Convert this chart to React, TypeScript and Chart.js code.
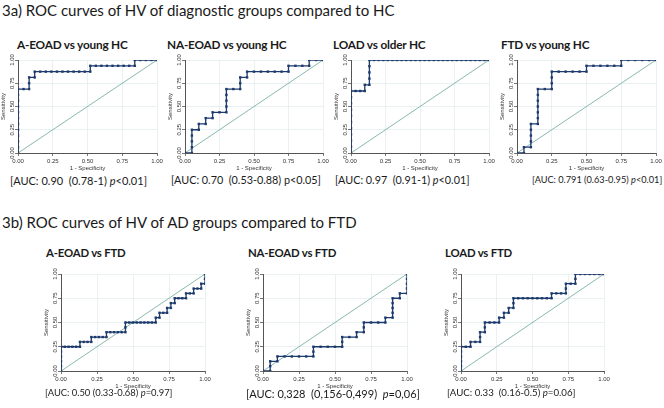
import React, { useEffect, useRef } from "react";
import { Chart, registerables } from "chart.js";

Chart.register(...registerables);

// ---------- data (counts of false positives / true positives at each ROC point) ----------
const TICK_LABELS = ["0.00", "0.25", "0.50", "0.75", "1.00"];

// 3a-1 A-EOAD vs young HC
const AEOAD_HC_NNEG = 25;
const AEOAD_HC_NPOS = 16;
const AEOAD_HC_FP = [0,0,0,0,0,0,0,0,0,0,0,0,1,2,2,2,3,3,4,5,6,7,8,9,10,11,12,13,13,14,15,16,17,18,19,20,21,21,22,23,24,25];
const AEOAD_HC_TP = [0,1,2,3,4,5,6,7,8,9,10,11,11,11,12,13,13,14,14,14,14,14,14,14,14,14,14,14,15,15,15,15,15,15,15,15,15,16,16,16,16,16];

// 3a-2 NA-EOAD vs young HC
const NAEOAD_HC_NNEG = 20;
const NAEOAD_HC_NPOS = 16;
const NAEOAD_HC_FP = [0,1,1,1,1,1,2,2,3,3,4,4,5,6,6,6,6,6,7,8,8,8,9,9,10,11,12,13,14,15,15,16,17,18,18,19,20];
const NAEOAD_HC_TP = [0,0,1,2,3,4,4,5,5,6,6,7,7,7,8,9,10,11,11,11,12,13,13,14,14,14,14,14,14,14,15,15,15,15,16,16,16];

// 3a-3 LOAD vs older HC
const LOAD_HC_NNEG = 30;
const LOAD_HC_NPOS = 15;
const LOAD_HC_FP = [0,0,0,0,0,0,0,0,0,0,0,1,2,3,3,4,4,4,4,4,5,6,7,8,9,10,11,12,13,14,15,16,17,18,19,20,21,22,23,24,25,26,27,28,29,30];
const LOAD_HC_TP = [0,1,2,3,4,5,6,7,8,9,10,10,10,10,11,11,12,13,14,15,15,15,15,15,15,15,15,15,15,15,15,15,15,15,15,15,15,15,15,15,15,15,15,15,15,15];

// 3a-4 FTD vs young HC
const FTD_HC_NNEG = 20;
const FTD_HC_NPOS = 16;
const FTD_HC_FP = [0,1,1,2,2,2,2,2,3,3,3,3,3,3,3,4,5,5,5,5,6,7,8,9,10,10,11,12,13,14,15,15,16,17,18,19,20];
const FTD_HC_TP = [0,0,1,1,2,3,4,5,5,6,7,8,9,10,11,11,11,12,13,14,14,14,14,14,14,15,15,15,15,15,15,16,16,16,16,16,16];

// 3b-1 A-EOAD vs FTD
const AEOAD_FTD_NNEG = 38;
const AEOAD_FTD_NPOS = 20;
const AEOAD_FTD_FP = [0,0,0,0,0,0,1,2,3,4,5,5,6,7,8,8,9,10,11,12,12,13,14,15,16,17,17,17,18,19,20,21,22,23,24,25,25,26,26,27,28,28,29,29,30,30,31,32,33,33,34,35,35,36,37,37,38,38,38];
const AEOAD_FTD_TP = [0,1,2,3,4,5,5,5,5,5,5,6,6,6,6,7,7,7,7,7,8,8,8,8,8,8,9,10,10,10,10,10,10,10,10,10,11,11,12,12,12,13,13,14,14,15,15,15,15,16,16,16,17,17,17,18,18,19,20];

// 3b-2 NA-EOAD vs FTD
const NAEOAD_FTD_NNEG = 20;
const NAEOAD_FTD_NPOS = 20;
const NAEOAD_FTD_FP = [0,1,1,1,2,2,3,4,5,6,7,7,7,8,9,10,11,11,11,12,13,13,14,14,14,15,16,17,17,18,18,18,18,18,19,19,20,20,20,20,20];
const NAEOAD_FTD_TP = [0,0,1,2,2,3,3,3,3,3,3,4,5,5,5,5,5,6,7,7,7,8,8,9,10,10,10,10,11,11,12,13,14,15,15,16,16,17,18,19,20];

// 3b-3 LOAD vs FTD
const LOAD_FTD_NNEG = 30;
const LOAD_FTD_NPOS = 20;
const LOAD_FTD_FP = [0,0,0,0,0,0,1,2,2,3,4,4,4,5,5,5,6,7,8,8,9,9,10,10,11,11,11,12,13,14,15,16,17,18,19,19,20,21,22,22,22,23,24,24,24,25,26,27,28,29,30];
const LOAD_FTD_TP = [0,1,2,3,4,5,5,5,6,6,6,7,8,8,9,10,10,10,10,11,11,12,12,13,13,14,15,15,15,15,15,15,15,15,15,16,16,16,16,17,18,18,18,19,20,20,20,20,20,20,20];

// ---------- styling ----------
const NAVY = "#1c3a6c";
const TEAL = "#88b9ae";
const GRID = "#e4eeef";
const AXIS = "#555555";
const TICK_FONT = "'Liberation Sans', Arial, sans-serif";
const TEXT_FONT = "Lato, 'Open Sans', sans-serif";

const WY = 18; // y-axis box width
const HX = 19; // x-axis box height
const PT = 8;  // top padding
const PR = 10; // right padding

type Panel = {
  title: string;
  titleSize: number;
  aucPre: string;
  pItalic: boolean;
  aucPost: string;
  aucSize: number;
  fp: number[];
  tp: number[];
  nNeg: number;
  nPos: number;
  plot: { l: number; t: number; w: number; h: number };
  titlePos: { x: number; y: number };
  aucPos: { x: number; y: number };
};

const PANELS: Panel[] = [
  { title: "A-EOAD vs young HC", titleSize: 11.8, aucPre: "[AUC: 0.90  (0.78-1) ", pItalic: true, aucPost: "<0.01]", aucSize: 11,
    fp: AEOAD_HC_FP, tp: AEOAD_HC_TP, nNeg: AEOAD_HC_NNEG, nPos: AEOAD_HC_NPOS,
    plot: { l: 18, t: 60, w: 139, h: 93 }, titlePos: { x: 17, y: 45 }, aucPos: { x: 10, y: 180 } },
  { title: "NA-EOAD vs young HC", titleSize: 11.8, aucPre: "[AUC: 0.70  (0.53-0.88) ", pItalic: false, aucPost: "<0.05]", aucSize: 10.8,
    fp: NAEOAD_HC_FP, tp: NAEOAD_HC_TP, nNeg: NAEOAD_HC_NNEG, nPos: NAEOAD_HC_NPOS,
    plot: { l: 185, t: 60, w: 138, h: 93 }, titlePos: { x: 167, y: 45 }, aucPos: { x: 171, y: 180 } },
  { title: "LOAD vs older HC", titleSize: 11.8, aucPre: "[AUC: 0.97  (0.91-1) ", pItalic: true, aucPost: "<0.01]", aucSize: 10.8,
    fp: LOAD_HC_FP, tp: LOAD_HC_TP, nNeg: LOAD_HC_NNEG, nPos: LOAD_HC_NPOS,
    plot: { l: 351, t: 60, w: 138, h: 93 }, titlePos: { x: 333, y: 45 }, aucPos: { x: 335, y: 180 } },
  { title: "FTD vs young HC", titleSize: 11.8, aucPre: "[AUC: 0.791 (0.63-0.95) ", pItalic: true, aucPost: "<0.01]", aucSize: 9.2,
    fp: FTD_HC_FP, tp: FTD_HC_TP, nNeg: FTD_HC_NNEG, nPos: FTD_HC_NPOS,
    plot: { l: 517, t: 60, w: 139, h: 93 }, titlePos: { x: 501, y: 45 }, aucPos: { x: 532, y: 180 } },
  { title: "A-EOAD vs FTD", titleSize: 11.4, aucPre: "[AUC: 0.50 (0.33-0.68) ", pItalic: true, aucPost: "=0.97]", aucSize: 9.4,
    fp: AEOAD_FTD_FP, tp: AEOAD_FTD_TP, nNeg: AEOAD_FTD_NNEG, nPos: AEOAD_FTD_NPOS,
    plot: { l: 61, t: 274, w: 144, h: 97 }, titlePos: { x: 46, y: 253 }, aucPos: { x: 45, y: 393 } },
  { title: "NA-EOAD vs FTD", titleSize: 11.4, aucPre: "[AUC: 0,328  (0,156-0,499)  ", pItalic: true, aucPost: "=0,06]", aucSize: 11,
    fp: NAEOAD_FTD_FP, tp: NAEOAD_FTD_TP, nNeg: NAEOAD_FTD_NNEG, nPos: NAEOAD_FTD_NPOS,
    plot: { l: 263, t: 274, w: 144, h: 97 }, titlePos: { x: 248, y: 253 }, aucPos: { x: 246, y: 393 } },
  { title: "LOAD vs FTD", titleSize: 11.4, aucPre: "[AUC: 0.33  (0.16-0.5) ", pItalic: true, aucPost: "=0.06]", aucSize: 9.7,
    fp: LOAD_FTD_FP, tp: LOAD_FTD_TP, nNeg: LOAD_FTD_NNEG, nPos: LOAD_FTD_NPOS,
    plot: { l: 461, t: 274, w: 143, h: 97 }, titlePos: { x: 445, y: 253 }, aucPos: { x: 447, y: 393 } },
];

function RocChart({ panel }: { panel: Panel }) {
  const ref = useRef<HTMLCanvasElement | null>(null);
  const cw = WY + panel.plot.w + PR;
  const ch = PT + panel.plot.h + HX;
  useEffect(() => {
    if (!ref.current) return;
    const pts = panel.fp.map((f, i) => ({ x: f / panel.nNeg, y: panel.tp[i] / panel.nPos }));
    const chart = new Chart(ref.current, {
      type: "scatter",
      data: {
        datasets: [
          {
            data: pts,
            showLine: true,
            borderColor: NAVY,
            backgroundColor: NAVY,
            borderWidth: 1.3,
            pointStyle: "rect",
            pointRadius: 1.7,
            pointBorderWidth: 0,
            order: 0,
          },
          {
            data: [{ x: 0, y: 0 }, { x: 1, y: 1 }],
            showLine: true,
            borderColor: TEAL,
            borderWidth: 1,
            pointRadius: 0,
            order: 1,
          },
        ],
      },
      options: {
        animation: false,
        responsive: false,
        devicePixelRatio: 1,
        events: [],
        plugins: { legend: { display: false }, tooltip: { enabled: false } },
        layout: { padding: { top: PT, right: PR, left: 0, bottom: 0 } },
        scales: {
          x: {
            type: "linear",
            min: 0,
            max: 1,
            ticks: {
              stepSize: 0.25,
              callback: (_v: any, i: number) => TICK_LABELS[i],
              font: { size: 6, family: TICK_FONT },
              color: "#333",
              padding: 2,
              maxRotation: 0,
              autoSkip: false,
            },
            grid: { color: GRID, tickColor: AXIS, tickLength: 3, lineWidth: 0.8 },
            border: { color: AXIS, width: 1 },
            title: { display: true, text: "1 - Specificity", font: { size: 6, family: TICK_FONT }, color: "#333", padding: 0 },
            afterFit: (s: any) => { s.height = HX; s.paddingLeft = 0; s.paddingRight = 0; },
          },
          y: {
            type: "linear",
            min: 0,
            max: 1,
            ticks: {
              stepSize: 0.25,
              callback: (_v: any, i: number) => TICK_LABELS[i],
              font: { size: 6, family: TICK_FONT },
              color: "#333",
              padding: -3,
              minRotation: 90,
              maxRotation: 90,
              crossAlign: "center",
              autoSkip: false,
            },
            grid: { color: GRID, tickColor: AXIS, tickLength: 3, lineWidth: 0.8 },
            border: { color: AXIS, width: 1 },
            title: { display: true, text: "Sensitivity", font: { size: 6, family: TICK_FONT }, color: "#333", padding: 0 },
            afterFit: (s: any) => { s.width = WY; s.paddingTop = 0; s.paddingBottom = 0; },
          },
        },
      } as any,
    });
    return () => chart.destroy();
  }, [panel]);
  return (
    <canvas
      ref={ref}
      width={cw}
      height={ch}
      style={{ position: "absolute", left: panel.plot.l - WY, top: panel.plot.t - PT, width: cw, height: ch }}
    />
  );
}

function Txt({ x, y, size, bold, spacing, children }: { x: number; y: number; size: number; bold?: boolean; spacing?: number; children: React.ReactNode }) {
  return (
    <div
      style={{
        position: "absolute",
        left: x,
        top: y - size / 2,
        fontSize: size,
        lineHeight: `${size}px`,
        fontFamily: TEXT_FONT,
        fontWeight: bold ? 700 : 400,
        letterSpacing: spacing ?? 0,
        color: "#1a1a1a",
        whiteSpace: "pre",
      }}
    >
      {children}
    </div>
  );
}

export default function App() {
  return (
    <div style={{ position: "fixed", left: 0, top: 0, width: 664, height: 408, background: "#fff", overflow: "hidden" }}>
      <Txt x={2} y={10} size={15}>3a) ROC curves of HV of diagnostic groups compared to HC</Txt>
      <Txt x={2} y={222} size={15}>3b) ROC curves of HV of AD groups compared to FTD</Txt>
      {PANELS.map((p, i) => (
        <React.Fragment key={i}>
          <Txt x={p.titlePos.x} y={p.titlePos.y} size={p.titleSize} bold spacing={-0.2}>{p.title}</Txt>
          <RocChart panel={p} />
          <Txt x={p.aucPos.x} y={p.aucPos.y} size={p.aucSize}>
            {p.aucPre}
            {p.pItalic ? <i>p</i> : "p"}
            {p.aucPost}
          </Txt>
        </React.Fragment>
      ))}
    </div>
  );
}
